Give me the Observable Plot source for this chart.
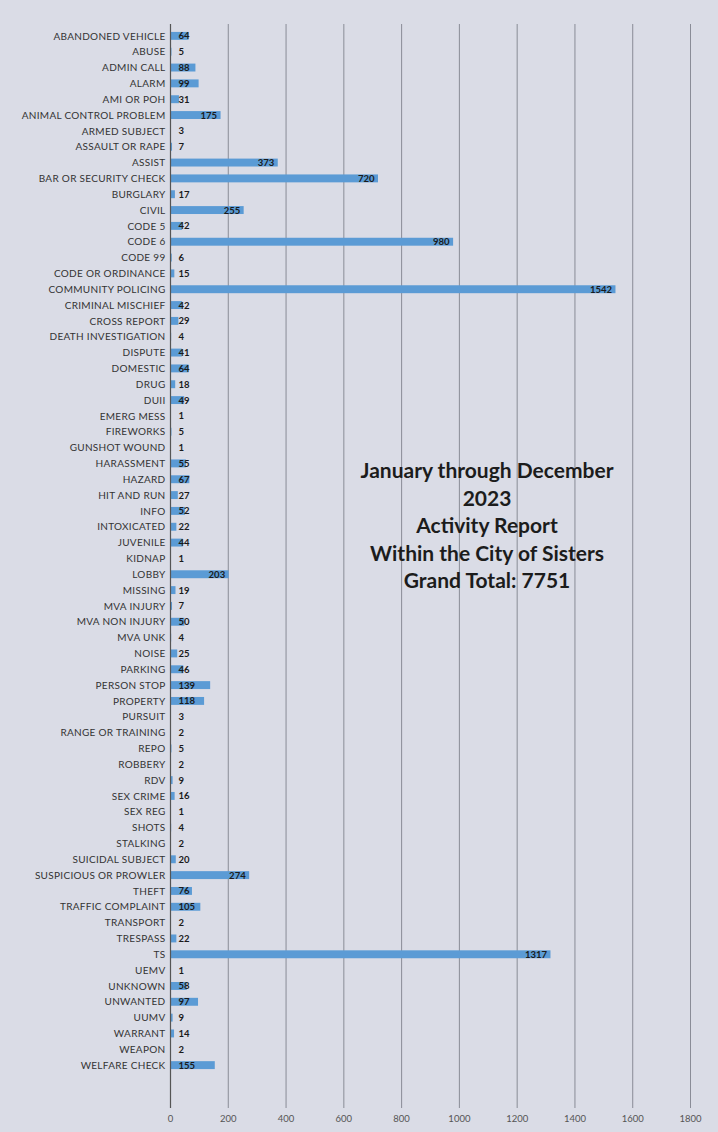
<!DOCTYPE html>
<html>
<head>
<meta charset="utf-8">
<script src="https://cdn.jsdelivr.net/npm/d3@7"></script>
<script src="https://cdn.jsdelivr.net/npm/@observablehq/plot@0.6"></script>
<style>
  html, body { margin: 0; padding: 0; background: #dadce6; }
  #wrap { position: relative; width: 718px; height: 1132px; overflow: hidden; }
  #title { position: absolute; left: 287px; width: 400px; top: 456px; text-align: center;
    font-family: Lato, "Open Sans", sans-serif; font-weight: bold; font-size: 21px; line-height: 27.5px; color: #1c1c1c; }
  .ylab text { letter-spacing: 0.3px; }
</style>
</head>
<body>
<div id="wrap">
  <div id="chart"></div>
  <div id="title">January through December<br>2023<br>Activity Report<br>Within the City of Sisters<br>Grand Total: 7751</div>
</div>
<script>
const categories = [
  "ABANDONED VEHICLE","ABUSE","ADMIN CALL","ALARM","AMI OR POH","ANIMAL CONTROL PROBLEM",
  "ARMED SUBJECT","ASSAULT OR RAPE","ASSIST","BAR OR SECURITY CHECK","BURGLARY","CIVIL",
  "CODE 5","CODE 6","CODE 99","CODE OR ORDINANCE","COMMUNITY POLICING","CRIMINAL MISCHIEF",
  "CROSS REPORT","DEATH INVESTIGATION","DISPUTE","DOMESTIC","DRUG","DUII","EMERG MESS",
  "FIREWORKS","GUNSHOT WOUND","HARASSMENT","HAZARD","HIT AND RUN","INFO","INTOXICATED",
  "JUVENILE","KIDNAP","LOBBY","MISSING","MVA INJURY","MVA NON INJURY","MVA UNK","NOISE",
  "PARKING","PERSON STOP","PROPERTY","PURSUIT","RANGE OR TRAINING","REPO","ROBBERY","RDV",
  "SEX CRIME","SEX REG","SHOTS","STALKING","SUICIDAL SUBJECT","SUSPICIOUS OR PROWLER",
  "THEFT","TRAFFIC COMPLAINT","TRANSPORT","TRESPASS","TS","UEMV","UNKNOWN","UNWANTED",
  "UUMV","WARRANT","WEAPON","WELFARE CHECK"
];
const values = [
  64,5,88,99,31,175,
  3,7,373,720,17,255,
  42,980,6,15,1542,42,
  29,4,41,64,18,49,1,
  5,1,55,67,27,52,22,
  44,1,203,19,7,50,4,25,
  46,139,118,3,2,5,2,9,
  16,1,4,2,20,274,
  76,105,2,22,1317,1,58,97,
  9,14,2,155
];
const xTicks = [0,200,400,600,800,1000,1200,1400,1600,1800];

const data = categories.map((c, i) => ({category: c, value: values[i]}));
const big = data.filter(d => d.value >= 170);
const small = data.filter(d => d.value < 170);

const chart = Plot.plot({
  width: 718,
  height: 1132,
  marginLeft: 170,
  marginRight: 28,
  marginTop: 24,
  marginBottom: 24,
  style: {background: "transparent", fontFamily: "Lato, 'Open Sans', sans-serif", fontSize: "10px", color: "#2a2a2a"},
  x: {domain: [0, 1800]},
  y: {domain: categories, padding: 0.5, insetBottom: 31},
  marks: [
    Plot.gridX(xTicks, {stroke: "#6f727c", strokeOpacity: 0.75, strokeWidth: 1}),
    Plot.barX(data, {x: "value", y: "category", fill: "#5b9bd5"}),
    Plot.ruleX([0], {stroke: "#555", strokeWidth: 1.2}),
    Plot.text(big, {x: "value", y: "category", text: d => String(d.value), textAnchor: "end", dx: -4, fill: "#1a1a1a", fontWeight: "bold", fontSize: 9.5}),
    Plot.text(small, {x: () => 0, y: "category", text: d => String(d.value), textAnchor: "start", dx: 8, fill: "#1a1a1a", fontWeight: "bold", fontSize: 9.5}),
    Plot.axisX({ticks: xTicks, tickFormat: d => String(d), tickSize: 0, tickPadding: 7, label: null, fill: "#555", fontSize: 9.5}),
    Plot.axisY({tickSize: 0, tickPadding: 5, label: null, fill: "#333", fontSize: 10, className: "ylab"})
  ]
});
document.getElementById("chart").appendChild(chart);
</script>
</body>
</html>
